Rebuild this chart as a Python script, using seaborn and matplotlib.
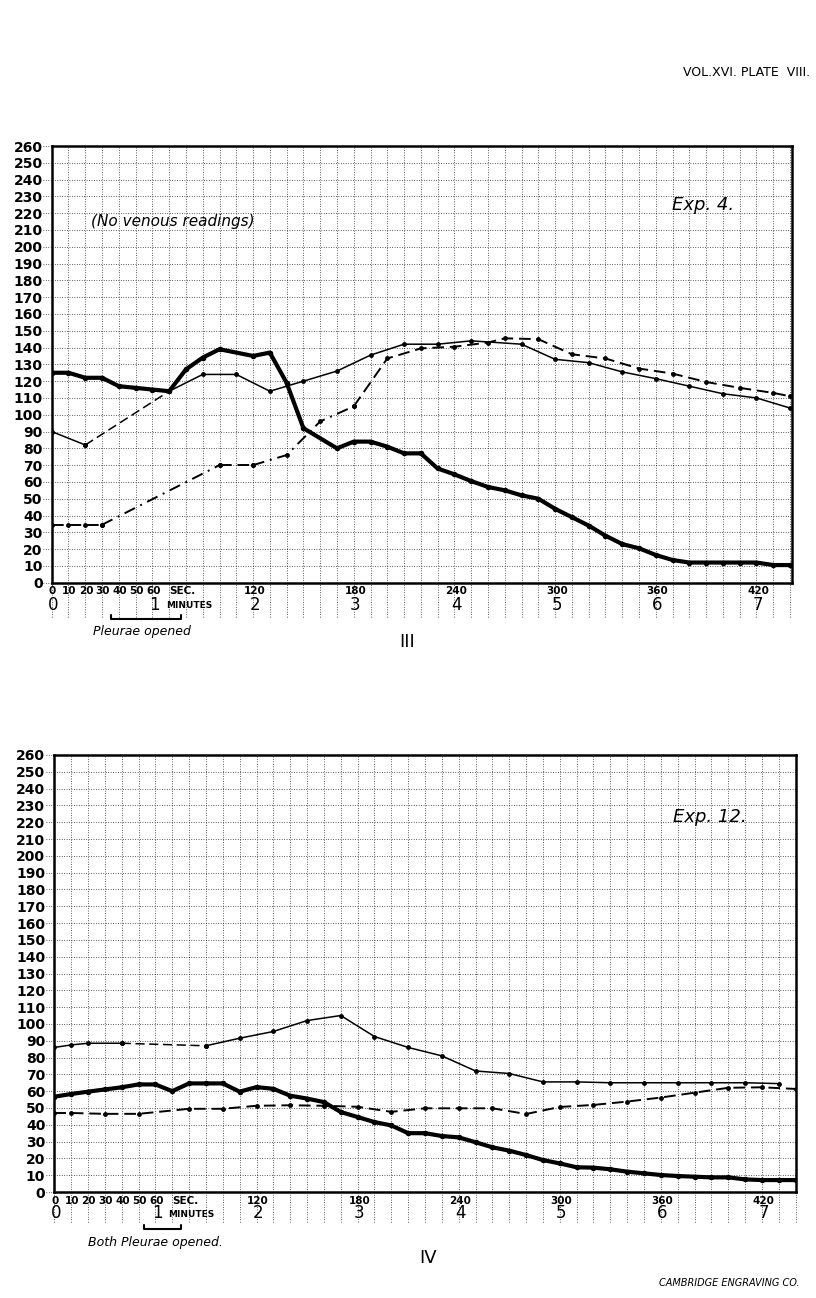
import numpy as np
import pandas as pd
import matplotlib
matplotlib.use("Agg")
import matplotlib.pyplot as plt
import seaborn as sns

sns.set_style("white")
plt.rcParams["font.family"] = ["DejaVu Sans"]
plt.rcParams["text.color"] = "black"
plt.rcParams["xtick.color"] = "black"
plt.rcParams["ytick.color"] = "black"
plt.rcParams["axes.labelcolor"] = "black"

# ---------------- data : Plate III (Exp. 4) ----------------
exp4_thick_t = [0, 10, 20, 30, 40, 50, 60, 70, 80, 90, 100, 120, 130, 140, 150, 170, 180, 190, 200, 210,
                220, 230, 240, 250, 260, 270, 280, 290, 300, 310, 320, 330, 340, 350, 360, 370, 380, 390,
                400, 410, 420, 430, 440]
exp4_thick_v = [125, 125, 122, 122, 117, 116, 115, 114, 127, 134, 139, 135, 137, 119, 92, 80, 84, 84, 81, 77,
                77, 68, 64.5, 60.5, 57, 55, 52, 50, 44, 39, 34, 28, 23, 20.5, 16.5, 13.5, 12, 12,
                12, 12, 12, 10.5, 10.5]
exp4_thin_t = [0, 20, 70, 90, 110, 130, 150, 170, 190, 210, 230, 250, 280, 300, 320, 340, 360, 380, 400, 420, 440]
exp4_thin_v = [90, 82, 114, 124, 124, 114, 120, 126, 135.5, 142, 142, 144, 142, 133, 131, 125.5, 121.5, 117,
               112.5, 110, 104]
exp4_dash_t = [0, 10, 20, 30, 100, 120, 140, 160, 180, 200, 220, 240, 260, 270, 290, 310, 330, 350, 370, 390,
               410, 430, 440]
exp4_dash_v = [34.5, 34.5, 34.5, 34.5, 70, 70, 76, 96, 105, 133.5, 139.5, 140.5, 143, 145.5, 145, 136, 133.5,
               127.5, 124.5, 119.5, 116, 113, 111]

# ---------------- data : Plate IV (Exp. 12) ----------------
exp12_thick_t = list(range(0, 441, 10))
exp12_thick_v = [56.7, 58.3, 59.7, 61, 62.3, 64, 64, 60, 64.6, 64.6, 64.6, 59.7, 62.4, 61.4, 57.3, 55.6, 53.5,
                 47.6, 44.6, 41.6, 39.6, 35, 35, 33.3, 32.5, 29.6, 26.6, 24.6, 22, 19, 17, 14.7, 14.5, 13.5,
                 12.1, 11.1, 10.1, 9.5, 9.1, 8.7, 8.7, 7.5, 7.1, 7.1, 7.1]
exp12_thin_t = [0, 10, 20, 40, 90, 110, 130, 150, 170, 190, 210, 230, 250, 270, 290, 310, 330, 350, 370, 390,
                410, 430]
exp12_thin_v = [86, 87.5, 88.5, 88.5, 87, 91.5, 95.5, 102, 105, 92.5, 86, 81, 72, 70.5, 65.5, 65.5, 65, 65,
                65, 65, 65, 64.5]
exp12_dash_t = [0, 10, 30, 50, 80, 100, 120, 140, 160, 180, 200, 220, 240, 260, 280, 300, 320, 340, 360, 380,
                400, 420, 440]
exp12_dash_v = [47, 47, 46.5, 46.5, 49.5, 49.5, 51.3, 51.6, 51.3, 50.7, 47.7, 49.8, 49.8, 49.8, 46.4, 50.6,
                51.8, 53.8, 56.2, 59.1, 62, 62.3, 61.3]

# ---------------- axis labels ----------------
y_ticks = list(range(0, 261, 10))
sec_pos = [0, 10, 20, 30, 40, 50, 60]
sec_labels = ["0", "10", "20", "30", "40", "50", "60"]
big_sec_pos = [120, 180, 240, 300, 360, 420]
big_sec_labels = ["120", "180", "240", "300", "360", "420"]
minute_pos = [0, 60, 120, 180, 240, 300, 360, 420]
minute_labels = ["0", "1", "2", "3", "4", "5", "6", "7"]

# ---------------- styles ----------------
SOLID = "-"
DASH = (0, (6, 3))
DASHDOT = (0, (6, 3, 1, 3))
GRID_LS = (0, (1, 2.2))

W, H = 816, 1298
fig = plt.figure(figsize=(W / 100, H / 100), dpi=100)
fig.patch.set_facecolor("white")


def draw_series(ax, t, v, segments, lw, ms):
    for i0, i1, ls in segments:
        sns.lineplot(x=t[i0:i1 + 1], y=v[i0:i1 + 1], ax=ax, color="black", lw=lw,
                     linestyle=ls, marker="o", markersize=ms, markeredgewidth=0,
                     errorbar=None, sort=False, legend=False)


def setup_axes(ax, xmax, grid_drop):
    ax.set_xlim(0, xmax)
    ax.set_ylim(0, 260)
    ax.set_xticks(np.arange(0, xmax + 0.1, 10))
    ax.set_xticklabels([])
    ax.set_yticks(y_ticks)
    ax.set_yticklabels([str(v) for v in y_ticks], fontsize=10, fontweight="bold", color="black")
    ax.tick_params(axis="both", length=0)
    ax.tick_params(axis="y", pad=6.5)
    ax.grid(True, color="black", lw=0.55, linestyle=GRID_LS)
    for s in ax.spines.values():
        s.set_visible(True)
        s.set_color("black")
        s.set_linewidth(1.8)
    ax.set_xlabel("")
    ax.set_ylabel("")
    # dotted leaders to y labels, and grid extension below x axis
    ax.hlines(y_ticks, -5, 0, colors="black", lw=0.55, linestyles=[GRID_LS], clip_on=False)
    ax.vlines(np.arange(0, xmax + 0.1, 10), grid_drop, 0, colors="black", lw=0.55,
              linestyles=[GRID_LS], clip_on=False)


def x_labels(ax, row1, row2, minutes_x):
    for p, lab in zip(sec_pos, sec_labels):
        ax.text(p + 0.5, row1, lab, fontsize=7.5, fontweight="bold", ha="center", va="center")
    ax.text(78, row1, "SEC.", fontsize=7.5, fontweight="bold", ha="center", va="center")
    for p, lab in zip(big_sec_pos, big_sec_labels):
        ax.text(p + 1, row1, lab, fontsize=7.5, fontweight="bold", ha="center", va="center")
    for p, lab in zip(minute_pos, minute_labels):
        ax.text(p + 1, row2, lab, fontsize=12, ha="center", va="center")
    ax.text(minutes_x, row2 - 0.8, "MINUTES", fontsize=6.5, fontweight="bold", ha="center", va="center")


# ---------------- Plate III ----------------
ax1 = fig.add_axes([51.7 / W, 1 - 582.7 / H, 740 / W, 436.7 / H])
setup_axes(ax1, 441, -20.5)
draw_series(ax1, exp4_dash_t, exp4_dash_v,
            [(0, 3, DASH), (3, 4, DASHDOT), (4, 5, DASH), (5, 8, DASHDOT), (8, len(exp4_dash_t) - 1, DASH)],
            1.4, 3.5)
draw_series(ax1, exp4_thin_t, exp4_thin_v,
            [(0, 1, SOLID), (1, 2, DASH), (2, len(exp4_thin_t) - 1, SOLID)], 1.1, 3.5)
draw_series(ax1, exp4_thick_t, exp4_thick_v, [(0, len(exp4_thick_t) - 1, SOLID)], 3.0, 4.0)
ax1.text(72, 215, "(No venous readings)", fontsize=11, style="italic", ha="center", va="center")
ax1.text(388, 225, "Exp. 4.", fontsize=13, style="italic", ha="center", va="center")
x_labels(ax1, -5.2, -13.0, 82)
ax1.plot([35.5, 35.5, 77, 77], [-19.3, -21.8, -21.8, -19.3], color="black", lw=1.5, clip_on=False)
ax1.text(54, -28.8, "Pleurae opened", fontsize=9, style="italic", ha="center", va="center")
ax1.text(212, -35.3, "III", fontsize=13, ha="center", va="center")

# ---------------- Plate IV ----------------
ax2 = fig.add_axes([54.3 / W, 1 - 1192 / H, 741.4 / W, 437 / H])
setup_axes(ax2, 440, -17.8)
draw_series(ax2, exp12_dash_t, exp12_dash_v, [(0, len(exp12_dash_t) - 1, DASH)], 1.4, 3.5)
draw_series(ax2, exp12_thin_t, exp12_thin_v,
            [(0, 3, SOLID), (3, 4, DASH), (4, len(exp12_thin_t) - 1, SOLID)], 1.1, 3.5)
draw_series(ax2, exp12_thick_t, exp12_thick_v, [(0, len(exp12_thick_t) - 1, SOLID)], 3.0, 4.0)
ax2.text(389, 223, "Exp. 12.", fontsize=13, style="italic", ha="center", va="center")
x_labels(ax2, -5.4, -12.6, 81)
ax2.plot([53, 53, 75, 75], [-19.5, -22, -22, -19.5], color="black", lw=1.5, clip_on=False)
ax2.text(60, -30.3, "Both Pleurae opened.", fontsize=9, style="italic", ha="center", va="center")
ax2.text(222, -39, "IV", fontsize=13, ha="center", va="center")

# ---------------- page texts ----------------
fig.text(810 / W, 1 - 73 / H, "VOL.XVI. PLATE  VIII.", fontsize=9, ha="right", va="center")
fig.text(800 / W, 1 - 1283 / H, "CAMBRIDGE ENGRAVING CO.", fontsize=7, style="italic",
         ha="right", va="center")

fig.savefig("out.png", dpi=100, facecolor="white")
